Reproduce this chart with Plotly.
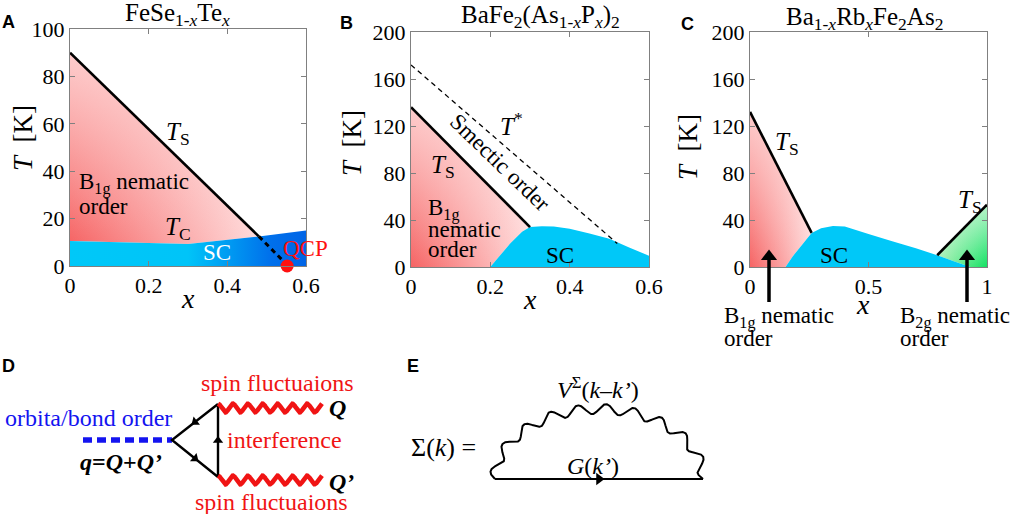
import numpy as np
import plotly.graph_objects as go

W, H = 1010, 514
SERIF = "Liberation Serif"
SANS = "Liberation Sans"

# ---------------- Panel A : FeSe1-xTex ----------------
A_ts_x = [0.0, 0.48]
A_ts_T = [90.0, 12.5]
A_dash_x = [0.48, 0.55]
A_dash_T = [12.5, 0.8]
A_qcp_x = [0.552]
A_qcp_T = [0.0]
A_sc_x = [0.0, 0.3, 0.48, 0.6]
A_sc_T = [10.5, 9.3, 12.5, 15.0]
A_xticks = [0, 0.2, 0.4, 0.6]
A_xlabels = ["0", "0.2", "0.4", "0.6"]
A_yticks = [0, 20, 40, 60, 80, 100]

# ---------------- Panel B : BaFe2(As1-xPx)2 ----------------
B_ts_x = [0.0, 0.3]
B_ts_T = [136.0, 34.0]
B_tstar_x = [0.0, 0.52]
B_tstar_T = [172.0, 20.0]
B_sc_x = [0.2, 0.22, 0.25, 0.28, 0.3, 0.33, 0.36, 0.4, 0.45, 0.5, 0.55, 0.6]
B_sc_T = [0, 8, 20, 30, 34, 34.7, 34.5, 32.5, 28.5, 24, 16.5, 9.5]
B_xticks = [0, 0.2, 0.4, 0.6]
B_xlabels = ["0", "0.2", "0.4", "0.6"]
B_yticks = [0, 40, 80, 120, 160, 200]

# ---------------- Panel C : Ba1-xRbxFe2As2 ----------------
C_ts1_x = [0.0, 0.26]
C_ts1_T = [132.0, 29.0]
C_ts2_x = [0.79, 1.0]
C_ts2_T = [10.0, 53.0]
C_sc_x = [0.15, 0.18, 0.22, 0.26, 0.3, 0.35, 0.4, 0.5, 0.6, 0.7, 0.79, 0.86, 0.93]
C_sc_T = [0, 9, 19, 29, 33, 35, 34.5, 28, 22, 16, 10, 5, 0]
C_xticks = [0, 0.5, 1]
C_xlabels = ["0", "0.5", "1"]
C_yticks = [0, 40, 80, 120, 160, 200]

# ---------------- Diagram D (pixel coordinates) ----------------
D_dash_x = [83, 172]
D_dash_y = [440, 440]
D_tri_x = [218, 172, 218, 218]
D_tri_y = [404, 440, 477, 404]
D_wave_x = [218, 322]
D_wave_y = [408, 480]
# ---------------- Diagram E ----------------
E_line_x = [495, 703]
E_line_y = [479, 479]
E_arc_center = (599, 479)
E_arc_axes = (104, 70)

fig = go.Figure()

def red_layers(xs, ys, xa, ya, base, top):
    fig.add_trace(go.Scatter(x=xs, y=ys, xaxis=xa, yaxis=ya, mode="none", fill="toself",
                             fillgradient=dict(type="horizontal", colorscale=base),
                             hoverinfo="skip", showlegend=False))
    fig.add_trace(go.Scatter(x=xs, y=ys, xaxis=xa, yaxis=ya, mode="none", fill="toself",
                             fillgradient=dict(type="vertical", colorscale=top),
                             hoverinfo="skip", showlegend=False))

RED_BASE = [[0, "rgb(246,100,100)"], [1, "rgb(255,218,218)"]]
RED_TOP = [[0, "rgba(255,255,255,0)"], [1, "rgba(255,222,222,0.85)"]]
CYAN = "rgb(0,200,248)"

def line(xs, ys, xa, ya, width=2.6, dash="solid", color="black"):
    fig.add_trace(go.Scatter(x=xs, y=ys, xaxis=xa, yaxis=ya, mode="lines",
                             line=dict(color=color, width=width, dash=dash),
                             hoverinfo="skip", showlegend=False))

# ---- Panel A traces ----
sel = [i for i in range(len(A_sc_x)) if A_sc_x[i] <= A_ts_x[-1]][::-1]
ax_red_x = A_ts_x + [A_sc_x[i] for i in sel]
ax_red_T = A_ts_T + [A_sc_T[i] for i in sel]
red_layers(ax_red_x, ax_red_T, "x", "y", RED_BASE, RED_TOP)
fig.add_trace(go.Scatter(x=A_sc_x + [A_sc_x[-1], A_sc_x[0]], y=A_sc_T + [0, 0], xaxis="x", yaxis="y",
                         mode="none", fill="toself",
                         fillgradient=dict(type="horizontal", colorscale=[
                             [0, "rgb(0,200,248)"], [0.5, "rgb(0,196,248)"],
                             [0.85, "rgb(0,112,235)"], [1, "rgb(0,100,230)"]]),
                         hoverinfo="skip", showlegend=False))
line(A_ts_x, A_ts_T, "x", "y")
line(A_dash_x, A_dash_T, "x", "y", width=3, dash="5px,4px")
fig.add_trace(go.Scatter(x=A_qcp_x, y=A_qcp_T, xaxis="x", yaxis="y", mode="markers",
                         marker=dict(color="#ff1010", size=13), cliponaxis=False,
                         hoverinfo="skip", showlegend=False))

# ---- Panel B traces ----
selb = [i for i in range(len(B_sc_x)) if B_sc_x[i] <= B_ts_x[-1]][::-1]
bx = [0.0] + B_ts_x + [B_sc_x[i] for i in selb]
bT = [0.0] + B_ts_T + [B_sc_T[i] for i in selb]
red_layers(bx, bT, "x2", "y2", RED_BASE, RED_TOP)
fig.add_trace(go.Scatter(x=B_sc_x + [B_sc_x[-1]], y=B_sc_T + [0], xaxis="x2", yaxis="y2",
                         mode="none", fill="toself", fillcolor=CYAN,
                         hoverinfo="skip", showlegend=False))
line(B_ts_x, B_ts_T, "x2", "y2")
line(B_tstar_x, B_tstar_T, "x2", "y2", width=1.3, dash="5px,4px")

# ---- Panel C traces ----
selc = [i for i in range(len(C_sc_x)) if C_sc_x[i] <= C_ts1_x[-1]][::-1]
cx_ = [0.0] + C_ts1_x + [C_sc_x[i] for i in selc]
cT_ = [0.0] + C_ts1_T + [C_sc_T[i] for i in selc]
red_layers(cx_, cT_, "x3", "y3", RED_BASE, RED_TOP)
selg = [i for i in range(len(C_sc_x)) if C_sc_x[i] >= C_ts2_x[0]][::-1]
gx = C_ts2_x + [C_ts2_x[-1]] + [C_sc_x[i] for i in selg]
gT = C_ts2_T + [0.0] + [C_sc_T[i] for i in selg]
red_layers(gx, gT, "x3", "y3",
           [[0, "rgb(170,240,180)"], [1, "rgb(20,226,100)"]],
           [[0, "rgba(255,255,255,0)"], [1, "rgba(225,248,225,0.8)"]])
fig.add_trace(go.Scatter(x=C_sc_x, y=C_sc_T, xaxis="x3", yaxis="y3",
                         mode="none", fill="toself", fillcolor=CYAN,
                         hoverinfo="skip", showlegend=False))
line(C_ts1_x, C_ts1_T, "x3", "y3")
line(C_ts2_x, C_ts2_T, "x3", "y3")

# ---- overlay (pixel) drawings ----
def pline(xs, ys, width=2.2, color="black", dash="solid"):
    fig.add_trace(go.Scatter(x=xs, y=ys, xaxis="x4", yaxis="y4", mode="lines",
                             line=dict(color=color, width=width, dash=dash),
                             hoverinfo="skip", showlegend=False, cliponaxis=False))

def parrow(x, y, dx, dy, size=9):
    ang = float(np.degrees(np.arctan2(dx, -dy)))
    fig.add_trace(go.Scatter(x=[x], y=[y], xaxis="x4", yaxis="y4", mode="markers",
                             marker=dict(symbol="triangle-up", size=size, angle=ang, color="black",
                                         line=dict(width=0)),
                             hoverinfo="skip", showlegend=False, cliponaxis=False))

# Panel C arrows
for ax_px in (769, 967):
    pline([ax_px, ax_px], [302, 260], width=3.5)
    parrow(ax_px, 256.5, 0, -1, size=14)

# Diagram D
pline(D_dash_x, D_dash_y, width=5.5, color="rgb(20,20,240)", dash="9px,5px")
pline(D_tri_x, D_tri_y, width=2.4)
for i in range(3):
    x0, y0, x1, y1 = D_tri_x[i], D_tri_y[i], D_tri_x[i + 1], D_tri_y[i + 1]
    parrow((x0 + x1) / 2, (y0 + y1) / 2, x1 - x0, y1 - y0, size=9)
for yc in D_wave_y:
    t = np.linspace(D_wave_x[0], D_wave_x[1], 300)
    period = (D_wave_x[1] - D_wave_x[0]) / 7.0
    wy = yc - 4.3 * np.cos(2 * np.pi * (t - D_wave_x[0]) / period)
    pline(t, wy, width=4.6, color="rgb(240,20,20)")

# Diagram E
pline(E_line_x, E_line_y, width=2.2)
parrow((E_line_x[0] + E_line_x[1]) / 2, E_line_y[0], 1, 0, size=11)
th = np.linspace(np.pi, 0, 1500)
ea, eb = E_arc_axes
ex0, ey0 = E_arc_center
bxp = ex0 + ea * np.cos(th)
byp = ey0 - eb * np.sin(th)
nx = np.cos(th) / ea
ny = -np.sin(th) / eb
nn = np.hypot(nx, ny)
nx, ny = nx / nn, ny / nn
seg = np.hypot(np.diff(bxp), np.diff(byp))
s = np.concatenate([[0], np.cumsum(seg)])
wig = 5.0 * np.sin(2 * np.pi * 10 * s / s[-1])
pline(bxp + nx * wig, byp + ny * wig, width=2.0)

# ---------------- annotations ----------------
ann = []
def txt(x, y, s, size=23, color="black", family=SERIF, angle=0, xanchor="center"):
    ann.append(dict(x=x, y=y, xref="x4", yref="y4", text=s, showarrow=False,
                    font=dict(family=family, size=size, color=color), textangle=angle,
                    xanchor=xanchor, yanchor="middle"))

# panel letters
for (lx, ly, L) in [(8, 22, "A"), (346, 23, "B"), (687, 24, "C"), (8, 366, "D"), (413, 366, "E")]:
    txt(lx, ly, "<b>%s</b>" % L, size=18, family=SANS)
# titles
txt(177, 14, "FeSe<sub>1-<i>x</i></sub>Te<sub><i>x</i></sub>", size=25)
txt(540, 16, "BaFe<sub>2</sub>(As<sub>1-<i>x</i></sub>P<sub><i>x</i></sub>)<sub>2</sub>", size=25)
txt(864, 18, "Ba<sub>1-<i>x</i></sub>Rb<sub><i>x</i></sub>Fe<sub>2</sub>As<sub>2</sub>", size=25)
# axis titles
for (tx, ty) in [(23, 138), (352, 143), (688, 147)]:
    txt(tx, ty, "<i>T</i>  [K]", size=27, angle=-90)
for (tx, ty) in [(188, 298), (530, 299), (863, 304)]:
    txt(tx, ty, "<i>x</i>", size=28)
# panel A labels
txt(178, 133, "<i>T</i><sub>S</sub>", size=25)
txt(178, 228, "<i>T</i><sub>C</sub>", size=25)
txt(77, 183, "B<sub>1g</sub> nematic", size=23, xanchor="left")
txt(77, 206, "order", size=23, xanchor="left")
txt(217, 252, "SC", size=23, color="white")
txt(305, 248, "QCP", size=23, color="#ff1010")
# panel B labels
txt(511, 124, "<i>T</i><sup>*</sup>", size=25)
txt(500, 162, "Smectic order", size=23, angle=44)
txt(443, 166, "<i>T</i><sub>S</sub>", size=25)
txt(426, 209, "B<sub>1g</sub>", size=23, xanchor="left")
txt(426, 229, "nematic", size=23, xanchor="left")
txt(426, 249, "order", size=23, xanchor="left")
txt(560, 255, "SC", size=23)
# panel C labels
txt(787, 143, "<i>T</i><sub>S</sub>", size=25)
txt(970, 201, "<i>T</i><sub>S</sub>", size=25)
txt(834, 255, "SC", size=23)
txt(722, 317, "B<sub>1g</sub> nematic", size=23, xanchor="left")
txt(722, 338, "order", size=23, xanchor="left")
txt(898, 317, "B<sub>2g</sub> nematic", size=23, xanchor="left")
txt(898, 338, "order", size=23, xanchor="left")
# diagram D labels
RED = "rgb(240,20,20)"
BLUE = "rgb(20,20,240)"
txt(88, 418, "orbita/bond order", size=24, color=BLUE)
txt(277, 383, "spin fluctuaions", size=24, color=RED)
txt(271, 502, "spin fluctuaions", size=24, color=RED)
txt(284, 440, "interference", size=24, color=RED)
txt(337, 408, "<b><i>Q</i></b>", size=24)
txt(341, 482, "<b><i>Q’</i></b>", size=24)
txt(121, 462, "<b><i>q</i>=<i>Q</i>+<i>Q’</i></b>", size=24)
# diagram E labels
txt(443, 447, "Σ(<i>k</i>) =", size=26)
txt(598, 388, "<i>V</i><sup>Σ</sup>(<i>k</i>–<i>k’</i>)", size=24)
txt(593, 466, "<i>G</i>(<i>k’</i>)", size=24)

axis_common = dict(showline=True, linecolor="#808080", linewidth=1, mirror="ticks",
                   ticks="inside", ticklen=5, tickcolor="#808080", tickwidth=1,
                   showgrid=False, zeroline=False, fixedrange=True,
                   tickfont=dict(family=SERIF, size=22, color="black"), tickmode="array")

def dx(a, b):
    return [a / W, b / W]

def dy(top, bottom):
    return [1 - bottom / H, 1 - top / H]

fig.update_layout(
    width=W, height=H, margin=dict(l=0, r=0, t=0, b=0, autoexpand=False),
    paper_bgcolor="white", plot_bgcolor="rgba(0,0,0,0)", template="none",
    showlegend=False, annotations=ann,
    xaxis=dict(axis_common, domain=dx(70, 306), range=[0, 0.6], tickvals=A_xticks, ticktext=A_xlabels, anchor="y"),
    yaxis=dict(axis_common, domain=dy(29, 266), range=[0, 100], tickvals=A_yticks,
               ticktext=[str(v) for v in A_yticks], anchor="x"),
    xaxis2=dict(axis_common, domain=dx(411, 649), range=[0, 0.6], tickvals=B_xticks, ticktext=B_xlabels, anchor="y2"),
    yaxis2=dict(axis_common, domain=dy(32, 267), range=[0, 200], tickvals=B_yticks,
                ticktext=[str(v) for v in B_yticks], anchor="x2"),
    xaxis3=dict(axis_common, domain=dx(750, 987), range=[0, 1], tickvals=C_xticks, ticktext=C_xlabels, anchor="y3"),
    yaxis3=dict(axis_common, domain=dy(32, 267), range=[0, 200], tickvals=C_yticks,
                ticktext=[str(v) for v in C_yticks], anchor="x3"),
    xaxis4=dict(domain=[0, 1], range=[0, W], visible=False, fixedrange=True, anchor="y4"),
    yaxis4=dict(domain=[0, 1], range=[H, 0], visible=False, fixedrange=True, anchor="x4"),
)

fig.write_html("out.html", config={"displayModeBar": False, "staticPlot": True},
               post_script="document.body.style.margin='0px';document.body.style.overflow='hidden';")
